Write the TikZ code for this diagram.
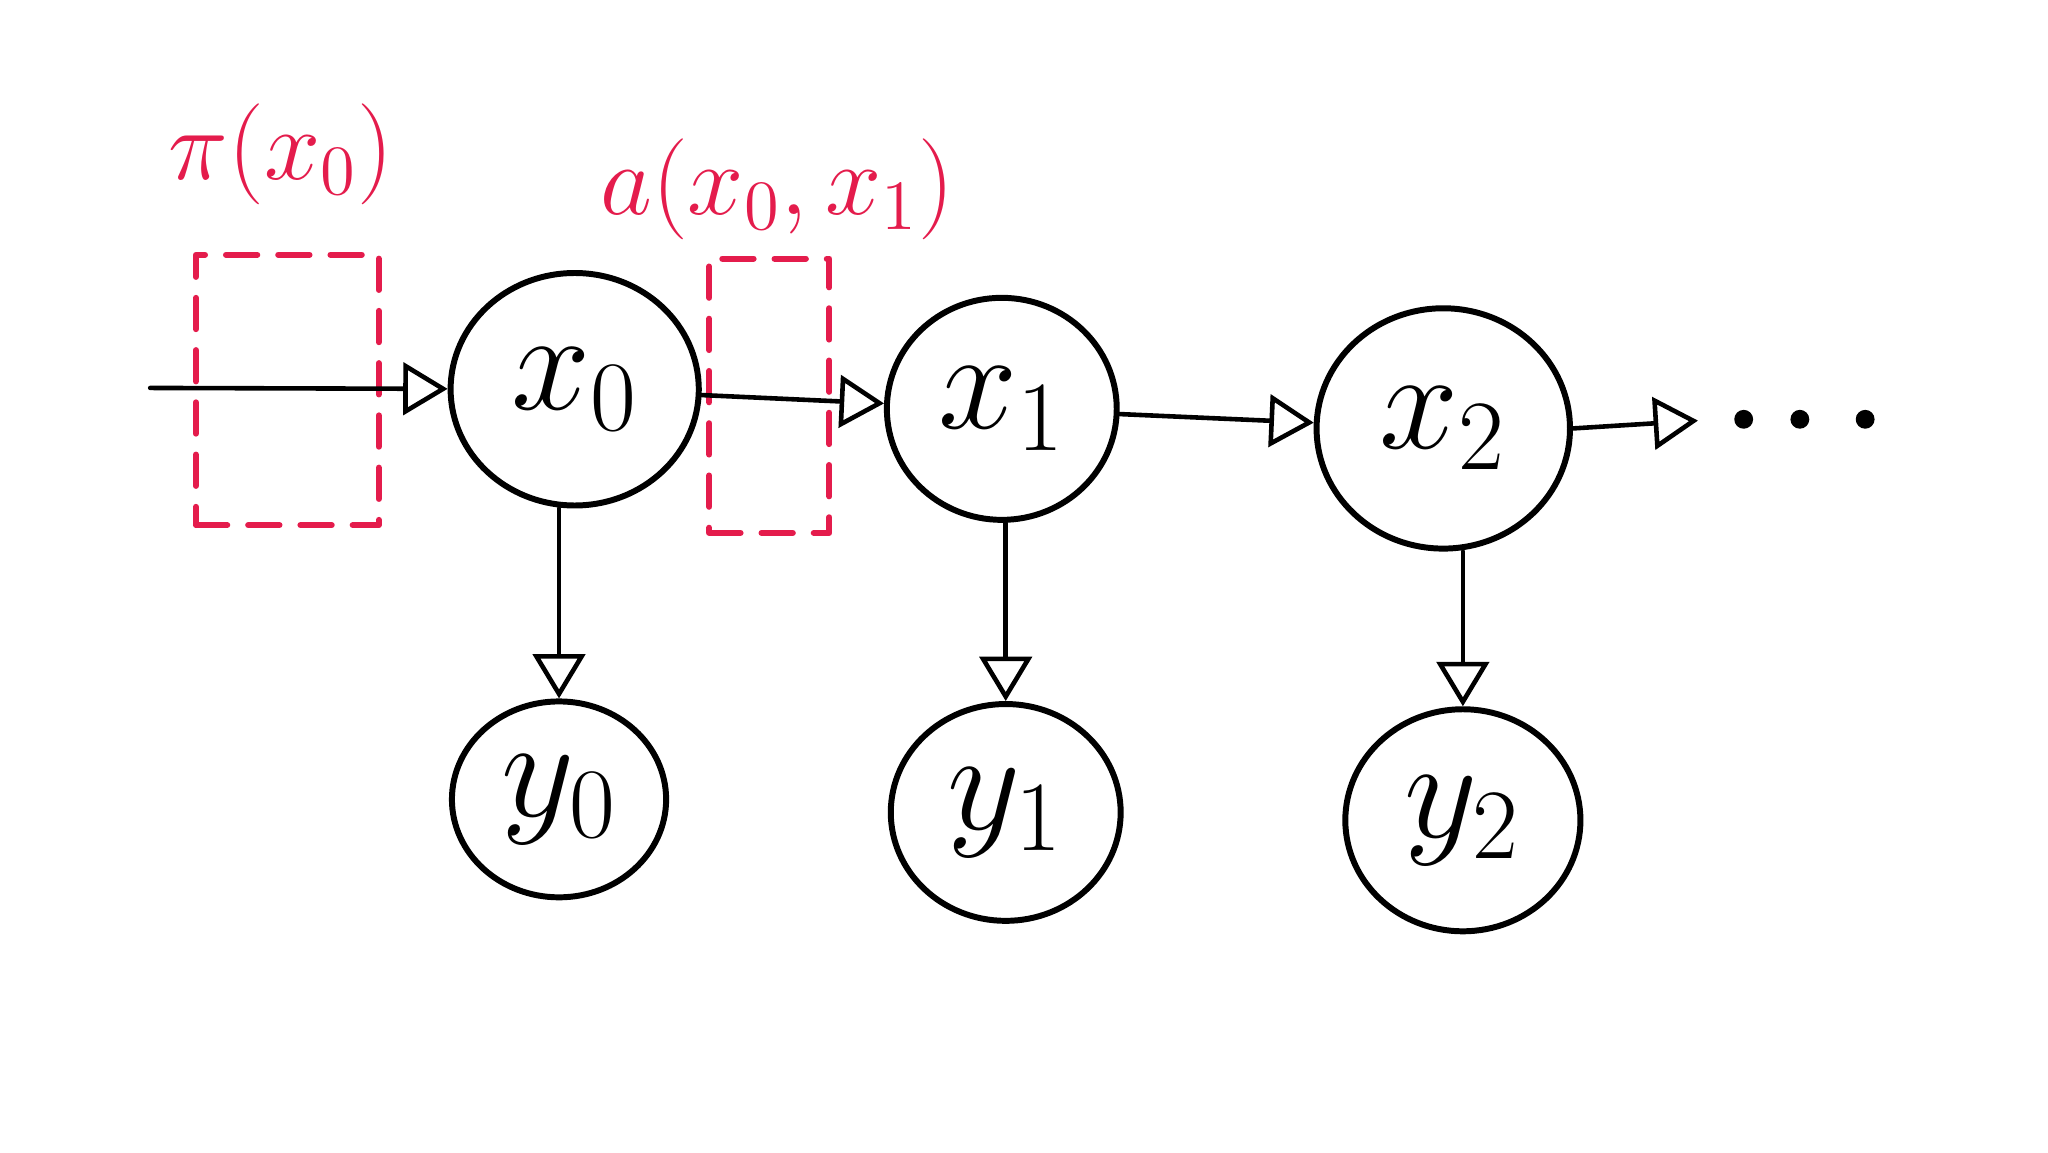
\RequirePackage{fix-cm}
\documentclass[tikz,border=0pt]{standalone}
\usepackage{tikz}
\usetikzlibrary{shapes.geometric,arrows.meta,calc}

\definecolor{inkred}{RGB}{228,28,76}

\begin{document}

\begin{tikzpicture}[line join=round, line cap=round, >={Triangle[open,length=0.34cm,width=0.40cm]},
	state/.style={draw, ellipse, line width=1.3pt, inner sep=0pt, font=\fontsize{31}{36}\selectfont},
	link/.style={->, line width=1pt},
	redbox/.style={draw=inkred, line width=1.3pt, dash pattern=on 0.24cm off 0.16cm, inner sep=0pt},
	redlabel/.style={text=inkred, font=\fontsize{22}{26}\selectfont}]

			\useasboundingbox (0,0) rectangle (15.68,-8.82);

			% hidden states
			\node[state, minimum width=1.9cm, minimum height=1.78cm] (x0) at (4.40,-2.98) {$x_0$};

			\node[state, minimum width=1.76cm, minimum height=1.70cm] (x1) at (7.67,-3.13) {$x_1$};

			\node[state, minimum width=1.94cm, minimum height=1.84cm] (x2) at (11.05,-3.28) {$x_2$};

			% observations
			\node[state, minimum width=1.64cm, minimum height=1.50cm] (y0) at (4.28,-6.12) {$y_0$};

			\node[state, minimum width=1.76cm, minimum height=1.66cm] (y1) at (7.70,-6.22) {$y_1$};

			\node[state, minimum width=1.80cm, minimum height=1.70cm] (y2) at (11.20,-6.28) {$y_2$};

			% dashed boxes and labels
			\node[redbox, minimum width=1.40cm, minimum height=2.07cm] (pibox) at (2.20,-2.985) {};

			\node[redbox, minimum width=0.92cm, minimum height=2.10cm] (abox) at (5.89,-3.03) {};

			\node[redlabel] (pilabel) at (2.15,-1.18) {$\pi(x_0)$};

			\node[redlabel] (alabel) at (5.95,-1.45) {$a(x_0,x_1)$};

			% chain
			\coordinate (start) at (1.15,-2.97);

			\coordinate (tip) at (13.00,-3.22);

			\draw[link] (start) -- (x0);

			\draw[link] (x0) -- (x1);

			\draw[link] (x1) -- (x2);

			\draw[link] (x2.east) -- (tip);

			\draw[link] (x0.south -| y0.north) -- (y0.north);

			\draw[link] (x1.south -| y1.north) -- (y1.north);

			\draw[link] (x2.south -| y2.north) -- (y2.north);

			% dots
			\foreach \i/\x in {1/13.35, 2/13.78, 3/14.28}
				\node[circle, fill, draw, inner sep=0pt, minimum size=0.13cm] (d\i) at (\x,-3.21) {};

	\end{tikzpicture}

\end{document}
